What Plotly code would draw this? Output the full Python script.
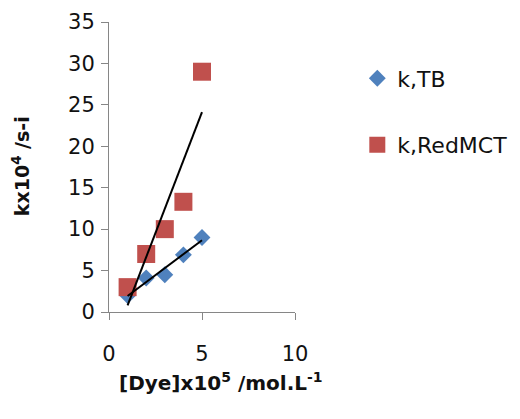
import numpy as np
import plotly.graph_objects as go

dye_conc = [1, 2, 3, 4, 5]
k_tb = [2.0, 4.1, 4.5, 6.9, 9.0]
k_redmct = [3.0, 7.0, 10.0, 13.3, 29.0]
series_names = ["k,TB", "k,RedMCT"]

FONT = "DejaVu Sans, sans-serif"
BLUE = "#4F81BD"
RED = "#C0504D"
AXIS = "#868686"

fig = go.Figure()

fig.add_trace(go.Scatter(x=dye_conc, y=k_tb, mode="markers", name=series_names[0],
                         legendgroup="a",
                         marker=dict(symbol="diamond", size=13, color=BLUE)))
fig.add_trace(go.Scatter(x=dye_conc, y=k_redmct, mode="markers", name=series_names[1],
                         legendgroup="b",
                         marker=dict(symbol="square", size=18, color=RED)))

# linear trendlines
for ys in (k_tb, k_redmct):
    m, c = np.polyfit(dye_conc, ys, 1)
    xs = np.array([dye_conc[0], dye_conc[-1]])
    fig.add_trace(go.Scatter(x=xs, y=m * xs + c, mode="lines", showlegend=False,
                             line=dict(color="black", width=2), hoverinfo="skip"))

fig.update_layout(
    width=520, height=419,
    margin=dict(l=101, r=233, t=14, b=115, autoexpand=False),
    plot_bgcolor="white", paper_bgcolor="white",
    font=dict(family=FONT, size=21, color="#111111"),
    legend=dict(x=1.335, y=0.878, xanchor="left", yanchor="top",
                tracegroupgap=35, font=dict(size=22)),
    showlegend=True,
)
fig.update_xaxes(range=[0, 10], tick0=0, dtick=5, showgrid=False, zeroline=False,
                 showline=True, linecolor=AXIS, linewidth=1, automargin=False,
                 ticks="outside", ticklen=7, tickcolor=AXIS,
                 ticklabelstandoff=16)
fig.update_yaxes(range=[0, 35], tick0=0, dtick=5, showgrid=False, zeroline=False,
                 showline=True, linecolor=AXIS, linewidth=1, automargin=False,
                 ticks="outside", ticklen=7, tickcolor=AXIS, ticklabelstandoff=2)
fig.add_annotation(text="<b>kx10<sup>4</sup> /s-i</b>",
                   xref="paper", yref="paper", x=-0.473, y=0.503, textangle=-90,
                   xanchor="center", yanchor="middle", showarrow=False,
                   font=dict(size=19))
fig.add_annotation(text="<b>[Dye]x10<sup>5</sup> /mol.L<sup>-1</sup></b>",
                   xref="paper", yref="paper", x=0.602, y=-0.24,
                   xanchor="center", yanchor="middle", showarrow=False,
                   font=dict(size=20))

fig.write_html("out.html")
